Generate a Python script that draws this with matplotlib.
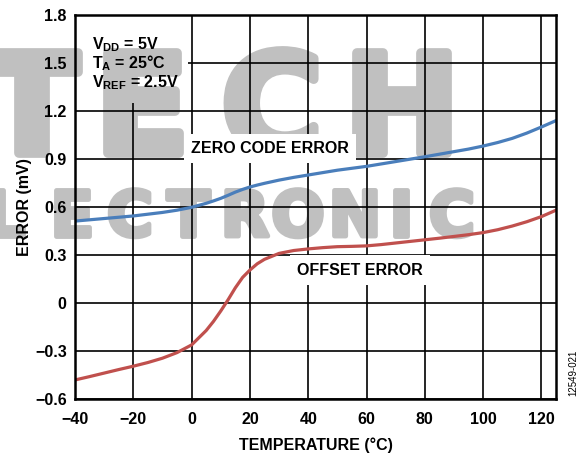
import matplotlib
matplotlib.use("Agg")
import matplotlib.pyplot as plt
import matplotlib.patheffects as pe
from matplotlib.patches import Rectangle

# temperature sweep (deg C)
temp = [-40, -35, -30, -25, -20, -15, -10, -5, 0, 5, 7.5, 10, 12.5, 15, 17.5, 20, 22.5,
        25, 30, 35, 40, 45, 50, 55, 60, 65, 70, 75, 80, 85, 90, 95, 100, 105, 110,
        115, 120, 125]

# zero code error (mV)
zero_code = [0.512, 0.520, 0.528, 0.536, 0.544, 0.555, 0.566, 0.580, 0.598, 0.623, 0.638,
             0.654, 0.673, 0.693, 0.710, 0.725, 0.737, 0.748, 0.768, 0.785, 0.800, 0.815,
             0.830, 0.842, 0.854, 0.869, 0.884, 0.899, 0.914, 0.930, 0.946, 0.962, 0.981,
             1.003, 1.029, 1.062, 1.100, 1.140]

# offset error (mV)
offset = [-0.481, -0.460, -0.438, -0.416, -0.395, -0.372, -0.345, -0.310, -0.262, -0.172,
          -0.115, -0.050, 0.020, 0.095, 0.160, 0.206, 0.245, 0.273, 0.310, 0.328, 0.338,
          0.346, 0.352, 0.354, 0.357, 0.365, 0.375, 0.385, 0.395, 0.405, 0.416, 0.427,
          0.440, 0.458, 0.481, 0.508, 0.540, 0.580]

x_ticks = [-40, -20, 0, 20, 40, 60, 80, 100, 120]
y_ticks = [-0.6, -0.3, 0, 0.3, 0.6, 0.9, 1.2, 1.5, 1.8]
y_tick_labels = ["\u22120.6", "\u22120.3", "0", "0.3", "0.6", "0.9", "1.2", "1.5", "1.8"]
x_tick_labels = ["\u221240", "\u221220", "0", "20", "40", "60", "80", "100", "120"]

plt.rcParams['font.family'] = ['Liberation Sans', 'DejaVu Sans']
plt.rcParams['font.weight'] = 'bold'
plt.rcParams['font.size'] = 11.5
plt.rcParams['mathtext.default'] = 'regular'

W, H = 587, 455
fig = plt.figure(figsize=(W / 100, H / 100), dpi=100)
ax = fig.add_axes([75 / W, 56 / H, 481 / W, 384 / H])

# curves sit on top of the grid
ax.plot(temp, zero_code, color='#4a7ebb', linewidth=2.3, zorder=2.2)
ax.plot(temp, offset, color='#c0504d', linewidth=2.3, zorder=2.2)

ax.set_xlim(-40, 125)
ax.set_ylim(-0.6, 1.8)
ax.set_xticks(x_ticks)
ax.set_xticklabels(x_tick_labels)
ax.set_yticks(y_ticks)
ax.set_yticklabels(y_tick_labels)
ax.tick_params(length=0)
ax.tick_params(axis='x', pad=9)
ax.tick_params(axis='y', pad=6)

# grid
for xv in x_ticks:
    ax.axvline(xv, color='black', linewidth=1.2, zorder=2.1)
for yv in y_ticks:
    ax.axhline(yv, color='black', linewidth=1.2, zorder=2.1)
for s in ax.spines.values():
    s.set_linewidth(1.8)

ax.set_xlabel("TEMPERATURE (\u00b0C)", fontweight='bold')
ax.set_ylabel("ERROR (mV)", fontweight='bold')
ax.xaxis.set_label_coords(0.5, -0.10)
ax.yaxis.set_label_coords(-0.09, 0.5)

# white area behind the conditions (hides the grid there)
cond_box = Rectangle((-40, 1.25), 38.8, 0.55, facecolor='white',
                     edgecolor='none', zorder=2.3)
ax.add_patch(cond_box)

# watermark
wm_color = '#c0c0c0'
wm_kw = dict(transform=fig.transFigure, color=wm_color, family='DejaVu Sans',
             fontweight='bold', ha='center', va='baseline')
wm_letters = []
for ch, cx in zip("TECH", [32, 142, 272, 402]):
    wm_letters.append((ch, cx / W, (H - 153) / H, 99, 7))
for ch, cx in zip("ELECTRONIC", [-50, 5, 72, 130, 188, 245, 298, 355, 401, 452]):
    wm_letters.append((ch, cx / W, (H - 236) / H, 45, 3.5))

for ch, xf, yf, fs, sw in wm_letters:
    fx = [pe.withStroke(linewidth=sw, foreground=wm_color)]
    ax.text(xf, yf, ch, fontsize=fs, path_effects=fx, zorder=1.0, clip_on=False,
            **wm_kw)
    # copy on top of the white conditions area
    t2 = ax.text(xf, yf, ch, fontsize=fs, path_effects=fx, zorder=2.4, **wm_kw)
    t2.set_clip_path(cond_box)
    t2.set_clip_on(True)

# conditions
cond_lines = ["V$_{DD}$ = 5V", "T$_{A}$ = 25\u00b0C", "V$_{REF}$ = 2.5V"]
for line, yp in zip(cond_lines, [49, 68, 87]):
    ax.text(0.035, (399 - yp) / 384, line, transform=ax.transAxes, ha='left',
            va='baseline', fontweight='bold', zorder=2.45)

# curve labels
box = dict(boxstyle='square,pad=0.45', facecolor='white', edgecolor='none')
ax.text(26.9, 0.965, "ZERO CODE ERROR", ha='center', va='center',
        fontweight='bold', bbox=box, zorder=3)
ax.text(57.7, 0.206, "OFFSET ERROR", ha='center', va='center',
        fontweight='bold', bbox=box, zorder=3)

fig.text(573 / W, 1 - 373 / H, "12549-021", rotation=90, ha='center',
         va='center', fontsize=7, fontweight='normal')

fig.savefig("out.png", dpi=100)
